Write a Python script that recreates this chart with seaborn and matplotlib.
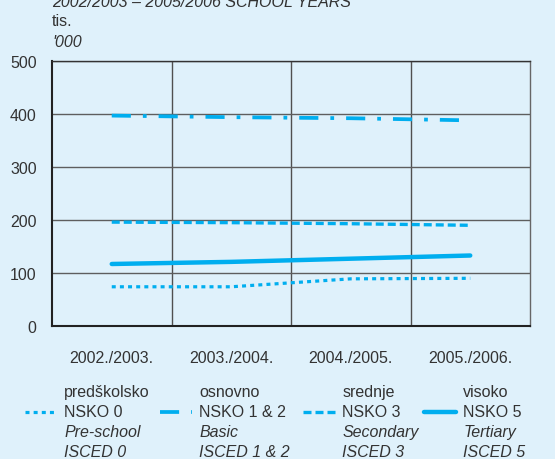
import matplotlib
matplotlib.use("Agg")
import matplotlib.pyplot as plt
import seaborn as sns
import pandas as pd
from matplotlib import font_manager
from matplotlib.transforms import IdentityTransform, Affine2D
from matplotlib.font_manager import FontProperties

# ---- data ----
years = ["2002./2003.", "2003./2004.", "2004./2005.", "2005./2006."]
preschool = [74, 74, 89, 90]
basic = [397, 394, 392, 388]
secondary = [196, 195, 193, 190]
tertiary = [117, 121, 127, 133]
labels_hr = ["predškolsko\nNSKO 0", "osnovno\nNSKO 1 & 2", "srednje\nNSKO 3", "visoko\nNSKO 5"]
labels_en = ["Pre-school\nISCED 0", "Basic\nISCED 1 & 2", "Secondary\nISCED 3", "Tertiary\nISCED 5"]
yticks = [0, 100, 200, 300, 400, 500]
title = "2002/2003 – 2005/2006 SCHOOL YEARS"
unit_hr = "tis."
unit_en = "'000"

BG = "#dff1fb"
LINE = "#00aeef"
TXT = "#333333"

sns.set_theme(style="white")
names = {f.name for f in font_manager.fontManager.ttflist}
if "Liberation Sans Narrow" in names:
    plt.rcParams["font.family"] = ["Liberation Sans Narrow", "Liberation Sans", "DejaVu Sans"]
    FS = 12.5
else:
    plt.rcParams["font.family"] = ["Liberation Sans", "DejaVu Sans"]
    FS = 11.5
plt.rcParams["font.size"] = FS
LS = 1.42

W, H = 555, 460
fig = plt.figure(figsize=(W / 100, H / 100), dpi=100, facecolor=BG)
ax = fig.add_axes([52 / W, 1 - 327 / H, (530 - 52) / W, (327 - 62) / H])
ax.set_facecolor(BG)

series = [preschool, basic, secondary, tertiary]
styles = [
    dict(lw=2.3, linestyle=(0, (1.25, 1.3))),
    dict(lw=2.7, linestyle=(0, (5.1, 3.2, 1.0, 3.2))),
    dict(lw=2.4, linestyle=(0, (2.4, 1.2))),
    dict(lw=3.2, linestyle="-"),
]
for vals, lab, st in zip(series, labels_hr, styles):
    df = pd.DataFrame({"year": years, "value": vals})
    sns.lineplot(data=df, x="year", y="value", ax=ax, color=LINE, label=lab,
                 sort=False, legend=False, **st)

ax.set_xlim(-0.5, len(years) - 0.5)
ax.set_ylim(yticks[0], yticks[-1])
ax.set_yticks(yticks)
ax.set_xticks(range(len(years)))
ax.set_xticklabels(years)
ax.set_xticks([i + 0.5 for i in range(len(years) - 1)], minor=True)
ax.set_xlabel("")
ax.set_ylabel("")
ax.tick_params(axis="both", which="both", length=0, colors=TXT, labelsize=FS)
ax.tick_params(axis="y", pad=11)
ax.tick_params(axis="x", pad=17)
ax.grid(False)
ax.grid(True, axis="y", which="major", color="#5e5e5e", lw=1.0)
ax.grid(True, axis="x", which="minor", color="#505050", lw=1.0)
ax.set_axisbelow(True)
for s in ["left", "bottom"]:
    ax.spines[s].set_color("#222222")
    ax.spines[s].set_linewidth(1.5)
ax.spines["top"].set_color("#333333")
ax.spines["top"].set_linewidth(1.0)
ax.spines["right"].set_color("#666666")
ax.spines["right"].set_linewidth(1.0)

# header texts
fig.text(52 / W, 1 - 7 / H, title, style="italic", color=TXT, fontsize=FS, va="baseline")
fig.text(52 / W, 1 - 26 / H, unit_hr, color=TXT, fontsize=FS, va="baseline")
fig.text(52 / W, 1 - 47 / H, unit_en, color=TXT, fontsize=FS, style="italic", va="baseline")

# legend: one entry per column, placed like the reference
handles, labs = ax.get_legend_handles_labels()
col_x = [25, 160, 303, 424]
legs = []
for h, lab, cx in zip(handles, labs, col_x):
    lg = fig.legend([h], [lab], loc="upper left", bbox_to_anchor=(cx / W, 1 - 385 / H),
                    frameon=False, borderpad=0, borderaxespad=0,
                    handlelength=2.0, handletextpad=0.45,
                    fontsize=FS, labelcolor=TXT)
    for t in lg.get_texts():
        t.set_linespacing(LS)
    legs.append(lg)

fig.canvas.draw()
r = fig.canvas.get_renderer()
_, h_lp, d_lp = r.get_text_width_height_descent("lp", FontProperties(size=FS), ismath=False)
for lg, en in zip(legs, labels_en):
    t = lg.get_texts()[0]
    hl = lg.legend_handles[0]
    bb = t.get_window_extent(r)
    pitch = bb.height - h_lp
    # put the handle on the second label line
    hl.set_transform(hl.get_transform() + Affine2D().translate(0, -pitch / 2))
    fig.text(bb.x0, bb.y0 + h_lp - pitch, en, transform=IdentityTransform(), style="italic",
             color=TXT, fontsize=FS, va="top", ha="left", linespacing=LS)

fig.savefig("out.png", dpi=100, facecolor=BG)
